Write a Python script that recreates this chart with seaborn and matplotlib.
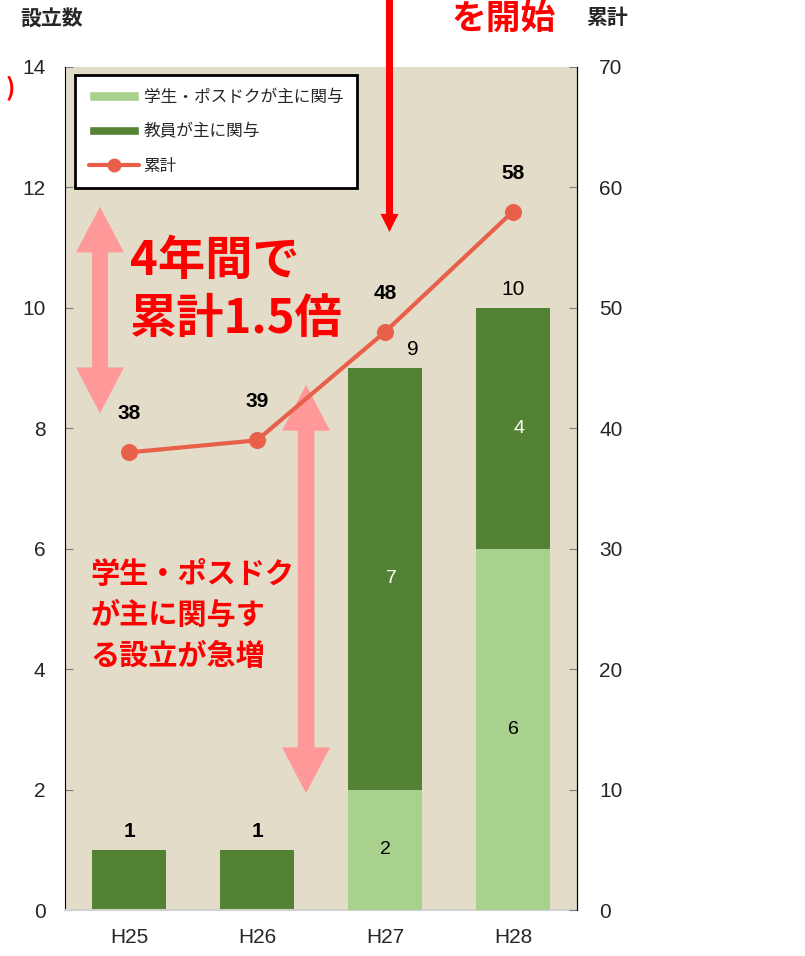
import matplotlib
matplotlib.use('Agg')
import matplotlib.pyplot as plt
import seaborn as sns
from matplotlib.patches import Patch, FancyArrow
from matplotlib.lines import Line2D

# data
years = ["H25", "H26", "H27", "H28"]
student = [0, 0, 2, 6]      # 学生・ポスドクが主に関与
teacher = [1, 1, 7, 4]      # 教員が主に関与
cumulative = [38, 39, 48, 58]

LIGHT = "#A9D18E"
DARK = "#548235"
LINE = "#E8604A"
BG = "#E2DCC9"
PINK = "#FF9999"
RED = "#FF0000"

sns.set_style("white")
plt.rcParams['font.family'] = ['Liberation Sans Narrow', 'Liberation Sans', 'Noto Sans CJK JP', 'DejaVu Sans']
JP = ['Noto Sans CJK JP', 'DejaVu Sans']

fig = plt.figure(figsize=(8.05, 9.56), dpi=100)
ax = fig.add_axes([65 / 805, 46 / 956, 512 / 805, 843 / 956])
ax.set_facecolor(BG)

totals = [s + t for s, t in zip(student, teacher)]
sns.barplot(x=years, y=totals, color=DARK, width=0.58, saturation=1, ax=ax,
            linewidth=0, edgecolor='none', zorder=2)
sns.barplot(x=years, y=student, color=LIGHT, width=0.58, saturation=1, ax=ax,
            linewidth=0, edgecolor='none', zorder=3)

ax.set_ylim(0, 14)
ax.set_xlim(-0.5, 3.5)
ax.set_yticks(range(0, 15, 2))
ax.tick_params(axis='y', direction='in', length=6, color='#7F7F7F', labelsize=15, pad=14)
ax.set_xticks(range(4))
ax.set_xticks([-0.5, 0.5, 1.5, 2.5, 3.5], minor=True)
ax.tick_params(axis='x', which='major', length=0, labelsize=15, pad=13)
ax.tick_params(axis='x', which='minor', length=8, color='#D0D0D0', direction='out')
ax.spines['top'].set_visible(False)
ax.spines['left'].set_color('black')
ax.spines['right'].set_color('black')
ax.spines['bottom'].set_color('#D0D0D0')
ax.spines['bottom'].set_linewidth(1.5)
ax.set_xlabel("")
ax.set_ylabel("")

# segment labels
for i, (s, t) in enumerate(zip(student, teacher)):
    if s > 0:
        ax.text(i, s / 2, str(s), ha='center', va='center', fontsize=14, color='black', zorder=5)
        ax.text(i + 0.05, s + t / 2, str(t), ha='center', va='center', fontsize=14, color='white', zorder=5)
# total labels
for i, tot in enumerate(totals):
    dx = 0.22 if i == 2 else 0
    ax.text(i + dx, tot + 0.15, str(tot), ha='center', va='bottom', fontsize=15,
            fontweight='bold' if tot == 1 else 'normal', color='black', zorder=5)

# cumulative on right axis
ax2 = ax.twinx()
sns.lineplot(x=years, y=cumulative, color=LINE, linewidth=3, marker='o', markersize=11.5,
             markeredgecolor=LINE, ax=ax2, zorder=6)
ax2.set_ylim(0, 70)
ax2.set_yticks(range(0, 71, 10))
ax2.tick_params(axis='y', direction='in', length=6, color='#7F7F7F', labelsize=15, pad=16)
for sp in ['top', 'left', 'bottom']:
    ax2.spines[sp].set_visible(False)
ax2.spines['right'].set_color('black')
ax2.set_ylabel("")
for i, c in enumerate(cumulative):
    ax2.text(i, c + 2.4, str(c), ha='center', va='bottom', fontsize=15, fontweight='bold', color='black')

# legend
handles = [Patch(facecolor=LIGHT, label='学生・ポスドクが主に関与'),
           Patch(facecolor=DARK, label='教員が主に関与'),
           Line2D([0], [0], color=LINE, lw=3, marker='o', markersize=9, label='累計')]
leg = ax2.legend(handles=handles, loc='upper left', bbox_to_anchor=(0.02, 0.99),
                 prop={'family': JP, 'size': 12}, frameon=True, fancybox=False,
                 edgecolor='black', framealpha=1, borderpad=0.8, labelspacing=1.05,
                 handlelength=3.0, handleheight=0.5, handletextpad=0.3, borderaxespad=0)
leg.get_frame().set_linewidth(2)
leg.set_zorder(10)

# annotation arrows in left-axis data coords (double arrows drawn as two halves)
def double_arrow(x, y0, y1, width, head_width, head_length, color):
    mid = (y0 + y1) / 2
    for tip in (y0, y1):
        ax.add_patch(FancyArrow(x, mid, 0, tip - mid, width=width, head_width=head_width,
                                head_length=head_length, length_includes_head=True,
                                color=color, lw=0, zorder=7))

double_arrow(-0.227, 8.25, 11.68, 0.125, 0.375, 0.76, PINK)
double_arrow(1.383, 1.94, 8.72, 0.13, 0.375, 0.76, PINK)
ax.add_patch(FancyArrow(2.035, 15.2, 0, 11.26 - 15.2, width=0.055, head_width=0.14,
                        head_length=0.3, length_includes_head=True, color=RED, lw=0,
                        zorder=7, clip_on=False))

ax.text(0.01, 10.3, "4年間で\n累計1.5倍", ha='left', va='center', fontsize=34,
        fontweight='bold', color=RED, family=JP, linespacing=1.25, zorder=8)
ax.text(-0.3, 4.9, "学生・ポスドク\nが主に関与す\nる設立が急増", ha='left', va='center',
        fontsize=21, fontweight='bold', color=RED, family=JP, linespacing=1.45, zorder=8)

# texts outside the plot
fig.text(52 / 805, 1 - 18 / 956, "設立数", ha='center', va='center', fontsize=15,
         fontweight='bold', family=JP)
fig.text(607 / 805, 1 - 18 / 956, "累計", ha='center', va='center', fontsize=15,
         fontweight='bold', family=JP)
fig.text(504 / 805, 1 - 18 / 956, "を開始", ha='center', va='center', fontsize=25,
         fontweight='bold', color=RED, family=JP)
fig.text(10 / 805, 1 - 88 / 956, ")", ha='center', va='center', fontsize=18,
         fontweight='bold', color=RED, family=JP)

plt.savefig("out.png", dpi=100)
plt.close()
